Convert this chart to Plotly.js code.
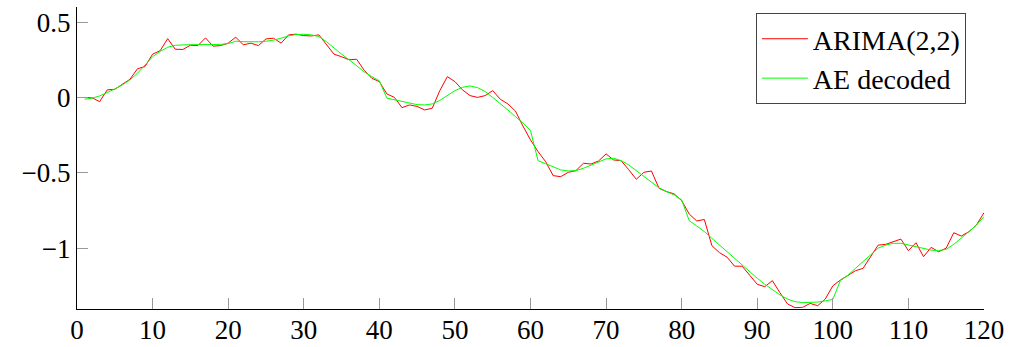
<!DOCTYPE html>
<html>
<head>
<meta charset="utf-8">
<script src="https://cdn.plot.ly/plotly-3.0.1.min.js"></script>
<style>html,body{margin:0;padding:0;background:#fff;}#chart{width:1013px;height:347px;}</style>
</head>
<body>
<div id="chart"></div>
<script>
const xValues = Array.from({length: 120}, (_, i) => i + 1);

const arimaValues = [
  0.000, -0.003, -0.028, 0.050, 0.054, 0.087, 0.120, 0.190, 0.205, 0.287,
  0.310, 0.390, 0.320, 0.318, 0.346, 0.344, 0.395, 0.340, 0.344, 0.360,
  0.400, 0.349, 0.360, 0.344, 0.388, 0.393, 0.360, 0.415, 0.420, 0.410,
  0.408, 0.415, 0.353, 0.287, 0.270, 0.250, 0.253, 0.180, 0.127, 0.105,
  0.023, 0.000, -0.068, -0.050, -0.060, -0.083, -0.072, 0.045, 0.138, 0.105,
  0.050, 0.012, 0.000, 0.012, 0.045, -0.012, -0.043, -0.090, -0.190, -0.282,
  -0.360, -0.426, -0.519, -0.526, -0.497, -0.486, -0.437, -0.442, -0.422, -0.375,
  -0.415, -0.420, -0.480, -0.543, -0.497, -0.488, -0.603, -0.625, -0.640, -0.685,
  -0.774, -0.820, -0.810, -0.984, -1.030, -1.060, -1.120, -1.120, -1.180, -1.240,
  -1.256, -1.216, -1.296, -1.370, -1.395, -1.393, -1.367, -1.382, -1.338, -1.250,
  -1.212, -1.180, -1.150, -1.134, -1.057, -0.980, -0.975, -0.957, -0.940, -1.017,
  -0.964, -1.057, -0.995, -1.024, -1.000, -0.898, -0.920, -0.891, -0.847, -0.765
];

const aeValues = [
  -0.012, -0.005, 0.010, 0.032, 0.056, 0.083, 0.116, 0.160, 0.216, 0.270,
  0.305, 0.333, 0.346, 0.350, 0.350, 0.350, 0.350, 0.350, 0.352, 0.357,
  0.373, 0.370, 0.369, 0.369, 0.373, 0.380, 0.393, 0.408, 0.417, 0.419,
  0.415, 0.404, 0.370, 0.326, 0.287, 0.250, 0.210, 0.170, 0.138, 0.110,
  -0.005, -0.017, -0.028, -0.039, -0.048, -0.050, -0.043, -0.020, 0.010, 0.045,
  0.067, 0.076, 0.065, 0.039, 0.000, -0.039, -0.083, -0.127, -0.170, -0.220,
  -0.420, -0.440, -0.463, -0.481, -0.488, -0.486, -0.470, -0.448, -0.426, -0.408,
  -0.404, -0.420, -0.448, -0.486, -0.526, -0.566, -0.600, -0.625, -0.647, -0.680,
  -0.818, -0.853, -0.890, -0.935, -0.980, -1.024, -1.068, -1.112, -1.157, -1.200,
  -1.240, -1.278, -1.310, -1.338, -1.355, -1.362, -1.362, -1.358, -1.350, -1.340,
  -1.216, -1.180, -1.134, -1.090, -1.046, -1.000, -0.980, -0.968, -0.968, -0.980,
  -0.990, -1.000, -1.013, -1.017, -1.008, -0.975, -0.935, -0.891, -0.847, -0.791
];

const seriesNames = ["ARIMA(2,2)", "AE decoded"];
const xTicks = [0, 10, 20, 30, 40, 50, 60, 70, 80, 90, 100, 110, 120];
const yTicks = [-1, -0.5, 0, 0.5];
const yTickText = ["\u22121", "\u22120.5", "0", "0.5"];

const traces = [
  {x: xValues, y: arimaValues, name: seriesNames[0], type: "scatter", mode: "lines",
   line: {color: "#ff0000", width: 1}},
  {x: xValues, y: aeValues, name: seriesNames[1], type: "scatter", mode: "lines",
   line: {color: "#00ff00", width: 1}}
];

const serif = "Liberation Serif";
const tickFont = {family: serif, size: 27, color: "#000"};

const layout = {
  width: 1013, height: 347,
  margin: {l: 77, r: 29, t: 7, b: 38},
  paper_bgcolor: "#fff", plot_bgcolor: "#fff",
  showlegend: true,
  legend: {
    x: 0.98, y: 0.98, xanchor: "right", yanchor: "top",
    bordercolor: "#444", borderwidth: 1, bgcolor: "#fff",
    font: {family: serif, size: 28, color: "#000"},
    tracegroupgap: 0, itemwidth: 46, entrywidth: 190, entrywidthmode: "pixels"
  },
  xaxis: {
    range: [0, 120], tickvals: xTicks, ticktext: xTicks.map(String),
    ticks: "inside", ticklen: 11, tickcolor: "#999", tickwidth: 1,
    showline: true, linecolor: "#000", linewidth: 1, mirror: false,
    showgrid: false, zeroline: false, tickfont: tickFont, ticklabelstandoff: -3
  },
  yaxis: {
    range: [-1.404, 0.6], tickvals: yTicks, ticktext: yTickText,
    ticks: "inside", ticklen: 11, tickcolor: "#999", tickwidth: 1,
    showline: true, linecolor: "#000", linewidth: 1, mirror: false,
    showgrid: false, zeroline: false, tickfont: tickFont
  }
};

Plotly.newPlot("chart", traces, layout, {staticPlot: true, displayModeBar: false});
</script>
</body>
</html>
